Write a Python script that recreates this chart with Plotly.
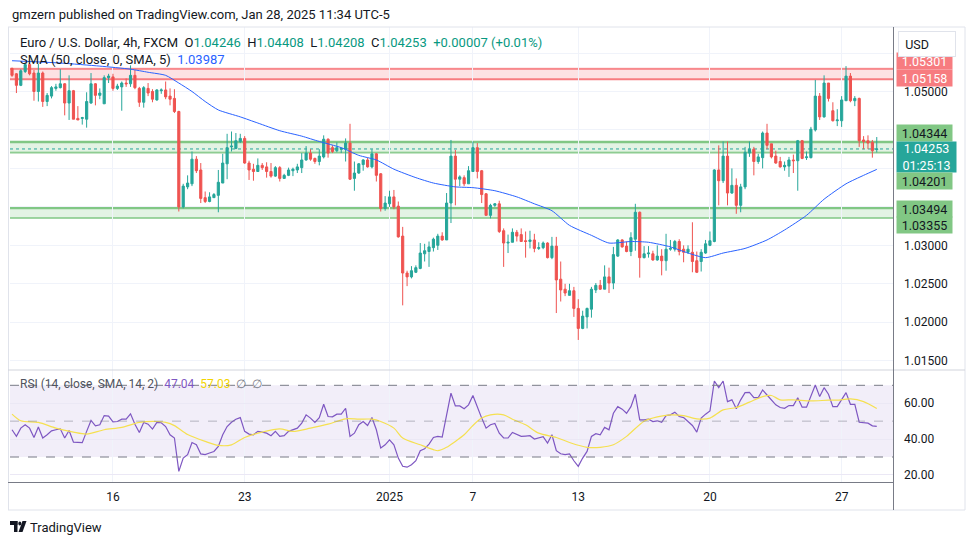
import plotly.graph_objects as go

W, H = 970, 545
def px(x): return x / W
def py(y): return 1 - y / H

# ---------------- data (EUR/USD 4h, FXCM) ----------------
opens = [1.0530,1.0523,1.0508,1.0526,1.0535,1.0524,1.0500,1.0524,1.0487,1.0494,
         1.0504,1.0505,1.0510,1.0485,1.0501,1.0465,1.0465,1.0464,1.0485,1.0510,
         1.0495,1.0484,1.0518,1.0519,1.0504,1.0506,1.0511,1.0510,1.0521,1.0504,
         1.0486,1.0504,1.0500,1.0489,1.0501,1.0502,1.0494,1.0491,1.0474,1.0350,
         1.0376,1.0380,1.0412,1.0398,1.0362,1.0357,1.0362,1.0365,1.0381,1.0406,
         1.0428,1.0426,1.0435,1.0439,1.0407,1.0399,1.0396,1.0404,1.0402,1.0396,
         1.0390,1.0401,1.0387,1.0391,1.0397,1.0398,1.0401,1.0411,1.0420,1.0413,
         1.0409,1.0415,1.0438,1.0427,1.0423,1.0425,1.0425,1.0433,1.0387,1.0394,
         1.0405,1.0411,1.0402,1.0419,1.0393,1.0348,1.0354,1.0363,1.0351,1.0312,
         1.0264,1.0259,1.0265,1.0270,1.0289,1.0292,1.0297,1.0300,1.0312,1.0307,
         1.0355,1.0416,1.0386,1.0388,1.0380,1.0396,1.0427,1.0397,1.0367,1.0339,
         1.0352,1.0354,1.0319,1.0303,1.0304,1.0317,1.0314,1.0306,1.0305,1.0307,
         1.0296,1.0297,1.0303,1.0284,1.0299,1.0256,1.0243,1.0235,1.0241,1.0218,
         1.0192,1.0207,1.0217,1.0242,1.0248,1.0243,1.0259,1.0251,1.0286,1.0307,
         1.0299,1.0292,1.0308,1.0343,1.0284,1.0289,1.0289,1.0281,1.0286,1.0280,
         1.0295,1.0295,1.0305,1.0295,1.0291,1.0291,1.0280,1.0279,1.0290,1.0300,
         1.0305,1.0398,1.0384,1.0416,1.0368,1.0378,1.0352,1.0376,1.0420,1.0425,
         1.0409,1.0414,1.0446,1.0432,1.0416,1.0409,1.0402,1.0403,1.0411,1.0410,
         1.0436,1.0414,1.0414,1.0450,1.0494,1.0467,1.0511,1.0475,1.0462,1.0462,
         1.0488,1.0520,1.0488,1.0491,1.0437,1.0436,1.0434,1.04246]
highs = [1.0531,1.0524,1.0529,1.0536,1.0537,1.0528,1.0536,1.0526,1.0498,1.0507,
         1.0510,1.0529,1.0511,1.0521,1.0502,1.0481,1.0467,1.0499,1.0524,1.0511,
         1.0504,1.0521,1.0523,1.0523,1.0510,1.0513,1.0517,1.0534,1.0528,1.0506,
         1.0507,1.0511,1.0503,1.0503,1.0504,1.0513,1.0504,1.0503,1.0475,1.0380,
         1.0391,1.0422,1.0416,1.0407,1.0370,1.0369,1.0368,1.0398,1.0419,1.0445,
         1.0448,1.0446,1.0445,1.0442,1.0410,1.0406,1.0413,1.0407,1.0408,1.0407,
         1.0403,1.0403,1.0393,1.0401,1.0401,1.0406,1.0420,1.0429,1.0425,1.0414,
         1.0425,1.0443,1.0439,1.0430,1.0434,1.0427,1.0439,1.0458,1.0409,1.0407,
         1.0412,1.0414,1.0425,1.0420,1.0394,1.0364,1.0371,1.0372,1.0357,1.0324,
         1.0267,1.0273,1.0274,1.0303,1.0302,1.0305,1.0310,1.0315,1.0317,1.0368,
         1.0437,1.0424,1.0391,1.0391,1.0403,1.0435,1.0433,1.0398,1.0368,1.0354,
         1.0355,1.0358,1.0322,1.0314,1.0322,1.0320,1.0322,1.0318,1.0319,1.0315,
         1.0304,1.0305,1.0304,1.0311,1.0311,1.0279,1.0250,1.0250,1.0246,1.0230,
         1.0215,1.0219,1.0246,1.0251,1.0255,1.0274,1.0271,1.0298,1.0308,1.0308,
         1.0305,1.0317,1.0354,1.0344,1.0299,1.0299,1.0293,1.0300,1.0295,1.0315,
         1.0307,1.0307,1.0308,1.0300,1.0300,1.0330,1.0292,1.0295,1.0307,1.0318,
         1.0399,1.0430,1.0435,1.0435,1.0400,1.0387,1.0380,1.0428,1.0435,1.0428,
         1.0419,1.0448,1.0458,1.0432,1.0423,1.0415,1.0409,1.0415,1.0418,1.0437,
         1.0437,1.0422,1.0454,1.0515,1.0498,1.0521,1.0511,1.0486,1.0477,1.0494,
         1.0533,1.0524,1.0494,1.0492,1.0442,1.0443,1.0437,1.04408]
lows = [1.0519,1.0498,1.0507,1.0524,1.0521,1.0488,1.0487,1.0480,1.0481,1.0491,
        1.0501,1.0504,1.0469,1.0463,1.0464,1.0463,1.0457,1.0453,1.0484,1.0482,
        1.0490,1.0484,1.0511,1.0501,1.0502,1.0475,1.0506,1.0506,1.0503,1.0480,
        1.0479,1.0494,1.0486,1.0488,1.0497,1.0490,1.0482,1.0472,1.0344,1.0348,
        1.0373,1.0377,1.0394,1.0355,1.0355,1.0356,1.0362,1.0343,1.0381,1.0386,
        1.0422,1.0425,1.0433,1.0406,1.0385,1.0384,1.0396,1.0398,1.0388,1.0388,
        1.0389,1.0383,1.0387,1.0390,1.0390,1.0394,1.0394,1.0410,1.0410,1.0406,
        1.0404,1.0413,1.0414,1.0420,1.0421,1.0420,1.0409,1.0385,1.0371,1.0393,
        1.0397,1.0401,1.0400,1.0383,1.0344,1.0345,1.0350,1.0347,1.0310,1.0222,
        1.0247,1.0257,1.0264,1.0269,1.0279,1.0272,1.0292,1.0294,1.0306,1.0307,
        1.0329,1.0352,1.0377,1.0377,1.0380,1.0396,1.0387,1.0355,1.0339,1.0335,
        1.0350,1.0316,1.0272,1.0290,1.0304,1.0305,1.0305,1.0284,1.0296,1.0291,
        1.0294,1.0295,1.0283,1.0282,1.0212,1.0227,1.0234,1.0235,1.0207,1.0177,
        1.0191,1.0192,1.0206,1.0238,1.0242,1.0243,1.0238,1.0243,1.0285,1.0297,
        1.0291,1.0286,1.0293,1.0258,1.0283,1.0284,1.0280,1.0280,1.0261,1.0267,
        1.0293,1.0292,1.0287,1.0278,1.0289,1.0265,1.0264,1.0266,1.0289,1.0299,
        1.0304,1.0352,1.0381,1.0352,1.0367,1.0341,1.0343,1.0373,1.0415,1.0391,
        1.0406,1.0400,1.0425,1.0413,1.0406,1.0401,1.0397,1.0389,1.0394,1.0371,
        1.0412,1.0411,1.0413,1.0448,1.0463,1.0466,1.0487,1.0461,1.0455,1.0454,
        1.0488,1.0486,1.0481,1.0428,1.0425,1.0425,1.0414,1.04208]
closes = [1.0521,1.0508,1.0527,1.0535,1.0523,1.0500,1.0524,1.0487,1.0495,1.0505,
          1.0506,1.0510,1.0485,1.0501,1.0464,1.0463,1.0466,1.0487,1.0510,1.0495,
          1.0498,1.0518,1.0520,1.0504,1.0507,1.0511,1.0510,1.0521,1.0505,1.0486,
          1.0505,1.0498,1.0490,1.0502,1.0502,1.0493,1.0490,1.0474,1.0350,1.0377,
          1.0381,1.0412,1.0397,1.0361,1.0357,1.0363,1.0366,1.0382,1.0407,1.0427,
          1.0429,1.0436,1.0439,1.0407,1.0398,1.0396,1.0404,1.0401,1.0396,1.0390,
          1.0401,1.0387,1.0391,1.0398,1.0399,1.0402,1.0411,1.0420,1.0412,1.0409,
          1.0416,1.0438,1.0420,1.0422,1.0427,1.0426,1.0433,1.0386,1.0394,1.0406,
          1.0411,1.0402,1.0419,1.0391,1.0348,1.0355,1.0363,1.0350,1.0311,1.0264,
          1.0259,1.0267,1.0271,1.0290,1.0293,1.0298,1.0308,1.0312,1.0307,1.0355,
          1.0416,1.0386,1.0389,1.0380,1.0397,1.0427,1.0396,1.0366,1.0339,1.0352,
          1.0354,1.0318,1.0303,1.0304,1.0317,1.0312,1.0305,1.0305,1.0307,1.0296,
          1.0297,1.0303,1.0284,1.0299,1.0255,1.0242,1.0238,1.0241,1.0218,1.0192,
          1.0208,1.0218,1.0243,1.0248,1.0243,1.0259,1.0251,1.0288,1.0307,1.0298,
          1.0292,1.0310,1.0343,1.0284,1.0289,1.0290,1.0281,1.0286,1.0280,1.0295,
          1.0296,1.0305,1.0292,1.0291,1.0295,1.0279,1.0265,1.0291,1.0302,1.0306,
          1.0398,1.0384,1.0416,1.0368,1.0378,1.0352,1.0376,1.0421,1.0425,1.0409,
          1.0415,1.0446,1.0430,1.0415,1.0407,1.0402,1.0404,1.0411,1.0410,1.0436,
          1.0413,1.0415,1.0451,1.0494,1.0467,1.0511,1.0491,1.0462,1.0463,1.0489,
          1.0520,1.0488,1.0491,1.0436,1.0435,1.0433,1.0423,1.04253]

rsi = [45.2,41.5,46.1,48.0,46.1,40.9,46.7,40.6,42.4,44.6,
       45.2,45.7,40.6,44.8,38.3,38.1,38.0,44.3,50.4,47.4,
       48.0,53.1,52.8,49.6,49.8,51.1,51.1,54.1,48.3,43.7,
       49.3,48.3,45.6,49.3,49.1,47.0,42.4,40.6,22.0,29.4,
       31.3,38.1,36.8,31.7,31.3,32.2,33.1,35.9,42.4,47.0,
       49.4,51.1,52.0,44.3,42.8,42.4,44.3,43.9,43.3,41.9,
       44.3,41.5,41.9,44.3,45.2,46.1,48.9,53.5,51.7,49.3,
       52.0,59.4,52.6,52.4,53.9,53.9,57.2,41.5,43.3,48.0,
       49.8,47.6,52.0,45.2,35.0,36.8,39.6,36.8,29.4,24.8,
       24.3,25.7,27.9,33.5,34.6,37.2,40.9,41.5,41.1,54.5,
       65.6,58.5,58.5,56.9,59.1,64.3,57.6,51.7,46.1,48.0,
       48.7,43.3,40.6,40.6,43.7,42.8,41.5,41.7,41.9,40.0,
       40.6,41.3,37.8,42.4,33.5,31.8,31.3,31.7,27.9,24.8,
       29.4,33.1,41.5,43.0,42.4,46.5,45.2,54.4,58.1,56.7,
       54.4,58.1,65.0,50.7,50.7,51.1,49.8,50.2,49.4,53.1,
       53.5,55.0,52.6,52.0,49.8,47.6,43.9,51.7,53.9,55.7,
       72.4,68.7,72.4,60.9,61.9,56.9,61.9,65.9,66.1,63.1,
       63.1,67.4,64.6,61.9,59.1,57.6,57.2,58.7,58.7,63.1,
       57.8,57.8,64.6,70.2,63.7,68.7,65.0,58.1,58.1,61.9,
       65.9,59.4,59.4,49.4,49.3,48.9,47.4,47.04]

sma_idx = [0,11,20,27,31,35,38,41,44,47,52,56,61,66,70,75,79,83,87,92,96,101,
           105,110,115,119,123,127,132,136,141,145,150,154,158,162,167,172,176,
           181,185,190,194,197]
sma_val = [1.0540,1.0537,1.0533,1.0529,1.0525,1.0521,1.0511,1.0500,1.0487,1.0476,
           1.0467,1.0459,1.0449,1.0442,1.0435,1.0427,1.0417,1.0411,1.0399,1.0388,
           1.0381,1.0376,1.0375,1.0371,1.0363,1.0354,1.0345,1.0326,1.0313,1.0303,
           1.0305,1.0304,1.0298,1.0290,1.0284,1.0290,1.0296,1.0307,1.0320,1.0339,
           1.0360,1.0380,1.0391,1.03987]

rsima_idx = [0,2,6,10,14,17,21,25,29,33,35,37,40,44,47,50,53,57,61,64,68,72,76,
             79,82,84,87,89,93,96,97,99,101,103,105,107,109,112,114,117,120,124,
             127,131,134,137,140,144,147,150,153,156,159,162,165,168,171,173,175,
             178,182,186,188,191,194,197]
rsima_val = [53.9,50.2,49.3,46.1,43.9,42.8,45.2,46.5,49.3,49.8,49.3,47.5,42.5,
             38.7,36.5,36.8,40.9,43.9,45.7,44.3,46.1,48.3,51.3,51.1,51.1,49.8,
             46.1,40.6,36.8,34.1,33.5,35.4,38.7,42.4,47.6,51.7,53.5,53.5,51.1,
             48.0,43.3,40.9,38.1,35.4,35.4,36.8,41.5,50.0,52.4,53.5,53.1,51.3,
             51.7,56.3,57.6,60.6,63.7,64.3,61.9,61.9,61.3,61.7,61.7,62.4,60.9,57.03]

day_idx = [23, 53, 86, 105, 129, 159, 189]
day_labels = ["16", "23", "2025", "7", "13", "20", "27"]

price_ticks = [1.015, 1.020, 1.025, 1.030, 1.035, 1.040, 1.045, 1.050, 1.055]
price_ticktext = ["1.01500", "1.02000", "1.02500", "1.03000", "", "", "", "1.05000", ""]

red_zone = (1.05158, 1.05301)
green_zone_hi = (1.04201, 1.04344)
green_zone_lo = (1.03355, 1.03494)
last_price = 1.04253

# ---------------- figure ----------------
FONT = "Roboto, Arial, sans-serif"
TXT = "#131722"
xs = list(range(len(closes)))
xdom = [px(10), px(893)]

fig = go.Figure()
fig.add_trace(go.Candlestick(
    x=xs, open=opens, high=highs, low=lows, close=closes,
    increasing=dict(line=dict(color="#26a69a", width=1), fillcolor="#26a69a"),
    decreasing=dict(line=dict(color="#ef5350", width=1), fillcolor="#ef5350"),
    whiskerwidth=0, xaxis="x", yaxis="y", showlegend=False, hoverinfo="skip"))
fig.add_trace(go.Scatter(x=sma_idx, y=sma_val, mode="lines",
    line=dict(color="#2962ff", width=1, shape="spline", smoothing=0.6),
    xaxis="x", yaxis="y", showlegend=False, hoverinfo="skip"))
fig.add_trace(go.Scatter(x=xs, y=rsi, mode="lines",
    line=dict(color="#7e57c2", width=1.2), xaxis="x2", yaxis="y2",
    showlegend=False, hoverinfo="skip"))
fig.add_trace(go.Scatter(x=rsima_idx, y=rsima_val, mode="lines",
    line=dict(color="#f5e050", width=1.2, shape="spline", smoothing=0.8),
    xaxis="x2", yaxis="y2", showlegend=False, hoverinfo="skip"))

shapes = []
def hline(y, color, width=1, dash="solid", yref="y", layer="below"):
    shapes.append(dict(type="line", xref="paper", yref=yref, x0=xdom[0], x1=xdom[1],
                       y0=y, y1=y, line=dict(color=color, width=width, dash=dash), layer=layer))
def band(y0, y1, color, yref="y"):
    shapes.append(dict(type="rect", xref="paper", yref=yref, x0=xdom[0], x1=xdom[1],
                       y0=y0, y1=y1, fillcolor=color, line=dict(width=0), layer="below"))

# zones
band(red_zone[0], red_zone[1], "rgba(247,124,128,0.22)")
hline(red_zone[1], "#f77c80", 1)
hline(red_zone[1] - 0.00012, "#f77c80", 1)
hline(red_zone[0], "#f77c80", 2)
band(green_zone_hi[0], green_zone_hi[1], "rgba(129,199,132,0.22)")
hline(green_zone_hi[1], "#81c784", 2.5)
hline(green_zone_hi[0] + 0.00010, "#81c784", 1)
hline(green_zone_hi[0], "#81c784", 1)
band(green_zone_lo[0], green_zone_lo[1], "rgba(129,199,132,0.22)")
hline(green_zone_lo[1], "#81c784", 1.5)
hline(green_zone_lo[1] - 0.00015, "#81c784", 1.5)
hline(green_zone_lo[0], "#81c784", 1.5)
hline(last_price, "#26a69a", 1, "dot")

# RSI band
band(30, 70, "rgba(126,87,194,0.10)", yref="y2")
hline(70, "#787b86", 1, "dash", yref="y2", layer="above")
hline(50, "rgba(120,123,134,0.5)", 1, "dash", yref="y2", layer="above")
hline(30, "#787b86", 1, "dash", yref="y2", layer="above")

def pline(x0, y0, x1, y1, color, width=1):
    shapes.append(dict(type="line", xref="paper", yref="paper", x0=px(x0), y0=py(y0),
                       x1=px(x1), y1=py(y1), line=dict(color=color, width=width), layer="above"))
# frame / separators
pline(8, 27, 965, 27, "#e0e3eb")
pline(8, 510, 965, 510, "#e0e3eb")
pline(8.5, 27, 8.5, 510, "#e0e3eb")
pline(965, 27, 965, 510, "#e0e3eb")
pline(8, 370, 965, 370, "#d1d4dc")
pline(8, 482.5, 893, 482.5, "#787b86")
pline(893.5, 27, 893.5, 510, "#787b86")

# TradingView logo glyph
shapes.append(dict(type="rect", xref="paper", yref="paper", x0=px(10), x1=px(17.5),
                   y0=py(525), y1=py(521), fillcolor=TXT, line=dict(width=0), layer="above"))
shapes.append(dict(type="rect", xref="paper", yref="paper", x0=px(14), x1=px(17.5),
                   y0=py(532), y1=py(521), fillcolor=TXT, line=dict(width=0), layer="above"))
shapes.append(dict(type="circle", xref="paper", yref="paper", x0=px(18.3), x1=px(21.3),
                   y0=py(525.5), y1=py(521.5), fillcolor=TXT, line=dict(width=0), layer="above"))
shapes.append(dict(type="path", xref="paper", yref="paper",
                   path=f"M {px(22.5)},{py(521)} L {px(26.5)},{py(521)} L {px(22.5)},{py(532)} L {px(18.5)},{py(532)} Z",
                   fillcolor=TXT, line=dict(width=0), layer="above"))

ann = []
def text(x, y, s, size=13, color=TXT, xanchor="left", **kw):
    ann.append(dict(xref="paper", yref="paper", x=px(x), y=py(y), text=s, showarrow=False,
                    xanchor=xanchor, yanchor="middle", font=dict(family=FONT, size=size, color=color), **kw))

text(10, 14, "gmzern published on TradingView.com, Jan 28, 2025 11:34 UTC-5", 13)
G = "#089981"
sp = "\u00a0\u00a0"
leg1 = (f"Euro / U.S. Dollar, 4h, FXCM{sp}O<span style='color:{G}'>1.04246</span>{sp}"
        f"H<span style='color:{G}'>1.04408</span>{sp}L<span style='color:{G}'>1.04208</span>{sp}"
        f"C<span style='color:{G}'>1.04253</span>{sp}<span style='color:{G}'>+0.00007 (+0.01%)</span>")
text(18, 42, leg1, 13)
text(18, 59, "SMA (50, close, 0, SMA, 5)\u00a0\u00a0<span style='color:#2962ff'>1.03987</span>", 13)
text(18, 384, "RSI (14, close, SMA, 14, 2)\u00a0\u00a0<span style='color:#7e57c2'>47.04</span>\u00a0\u00a0"
     "<span style='color:#f2d400'>57.03</span>\u00a0\u00a0<span style='color:#787b86'>\u2205\u00a0\u00a0\u2205</span>",
     12, color="#50535e")
text(28, 527, "TradingView", 13, color="#131722")

def tag(yc, s, bg, fg, h=13, w=52):
    ann.append(dict(xref="paper", yref="paper", x=px(896), y=py(yc), text=s, showarrow=False,
                    xanchor="left", yanchor="middle", bgcolor=bg, borderpad=1.5, width=w, height=h,
                    align="center", font=dict(family=FONT, size=12.5, color=fg)))

tag(61, "1.05301", "#f77c80", "#ffffff")
tag(78, "1.05158", "#f77c80", "#ffffff")
tag(133, "1.04344", "#81c784", TXT)
tag(156.5, "1.04253<br>01:25:13", "#26a69a", "#ffffff", h=27, w=56)
tag(180.5, "1.04201", "#81c784", TXT)
tag(208.7, "1.03494", "#81c784", TXT)
tag(225.3, "1.03355", "#81c784", TXT)
ann.append(dict(xref="paper", yref="paper", x=px(897.5), y=py(44), text="\u00a0\u00a0USD",
                showarrow=False, xanchor="left", yanchor="middle", bgcolor="#ffffff",
                bordercolor="#e0e3eb", borderwidth=1, borderpad=0, width=56, height=24,
                align="left", font=dict(family=FONT, size=12.5, color=TXT)))

fig.update_layout(
    width=W, height=H, margin=dict(l=0, r=0, t=0, b=0),
    paper_bgcolor="#ffffff", plot_bgcolor="#ffffff",
    showlegend=False, shapes=shapes, annotations=ann,
    font=dict(family=FONT, color=TXT, size=12),
    xaxis=dict(domain=xdom, range=[-0.46, 200.7], anchor="y", tickvals=day_idx,
               showticklabels=False, showgrid=True, gridcolor="#f0f3fa", zeroline=False,
               rangeslider=dict(visible=False), showline=False, ticks=""),
    xaxis2=dict(domain=xdom, range=[-0.46, 200.7], anchor="y2", matches="x",
                tickvals=day_idx, ticktext=day_labels, showgrid=True, gridcolor="#f0f3fa",
                zeroline=False, showline=False, ticks="", ticklabelstandoff=6,
                tickfont=dict(family=FONT, size=12, color=TXT)),
    yaxis=dict(domain=[py(370), py(27)], range=[1.013795, 1.058385], anchor="x",
               side="right", tickvals=price_ticks, ticktext=price_ticktext,
               showgrid=True, gridcolor="#f0f3fa", zeroline=False, ticks="",
               ticklabelstandoff=10, tickfont=dict(family=FONT, size=12, color=TXT)),
    yaxis2=dict(domain=[py(482), py(370)], range=[16.05, 78.54], anchor="x2",
                side="right", tickvals=[20, 40, 60], ticktext=["20.00", "40.00", "60.00"],
                showgrid=True, gridcolor="#ebe8f5", zeroline=False, ticks="",
                ticklabelstandoff=10, tickfont=dict(family=FONT, size=12, color=TXT)),
)

fig.write_html("out.html", config={"displayModeBar": False},
               post_script="document.body.style.margin='0';document.body.style.overflow='hidden';")
